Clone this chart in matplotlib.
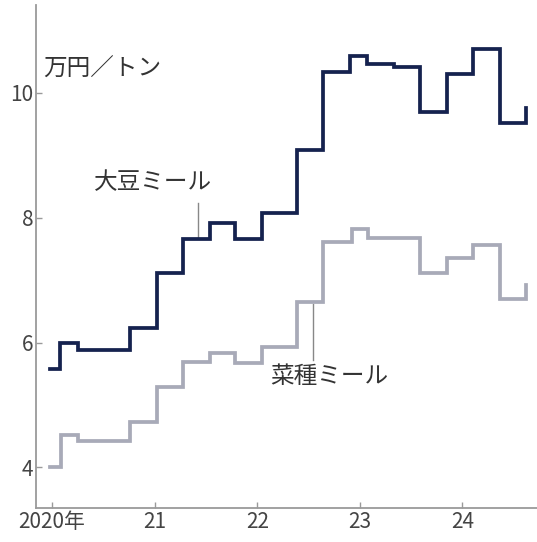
import matplotlib
matplotlib.use('Agg')
import matplotlib.pyplot as plt

plt.rcParams['font.family'] = ['Noto Sans CJK JP', 'DejaVu Sans']

# ── data (decimal year at which each price level starts) ─────────────────────
soy_t = [2019.98, 2020.078, 2020.253, 2020.760, 2021.023, 2021.277, 2021.540,
         2021.784, 2022.047, 2022.388, 2022.641, 2022.904, 2023.070, 2023.333,
         2023.587, 2023.850, 2024.103, 2024.366, 2024.620]
soy_v = [5.58, 6.00, 5.88, 6.23, 7.11, 7.66, 7.92,
         7.66, 8.08, 9.08, 10.34, 10.59, 10.46, 10.41,
         9.70, 10.30, 10.70, 9.52, 9.76]

rape_t = [2019.98, 2020.088, 2020.253, 2020.760, 2021.023, 2021.277, 2021.540,
          2021.784, 2022.047, 2022.388, 2022.641, 2022.924, 2023.080,
          2023.587, 2023.850, 2024.103, 2024.366, 2024.620]
rape_v = [4.00, 4.52, 4.42, 4.73, 5.29, 5.69, 5.83,
          5.67, 5.93, 6.65, 7.61, 7.82, 7.67,
          7.11, 7.35, 7.56, 6.70, 6.92]

x_ticks  = [2020, 2021, 2022, 2023, 2024]
x_labels = ['2020年', '21', '22', '23', '24']
y_ticks  = [4, 6, 8, 10]

NAVY = '#15224f'
GRAY = '#a8aab8'
AXIS = '#9a9a9a'
TXT  = '#333333'

fig = plt.figure(figsize=(5.37, 5.42), dpi=100)
ax = fig.add_axes([36 / 537, 34 / 542, 501 / 537, 503 / 542])

ax.step(rape_t, rape_v, where='post', color=GRAY, lw=2.7,
        solid_joinstyle='miter', zorder=3)
ax.step(soy_t, soy_v, where='post', color=NAVY, lw=2.7,
        solid_joinstyle='miter', zorder=4)

# leader lines for the series labels
ax.plot([2021.423, 2021.423], [8.24, 7.70], color='#888888', lw=1.0, zorder=2)
ax.plot([2022.544, 2022.544], [6.62, 5.72], color='#888888', lw=1.0, zorder=2)

ax.text(2019.912, 10.38, '万円／トン', fontsize=17, color=TXT,
        ha='left', va='center')
ax.text(2020.41, 8.56, '大豆ミール', fontsize=17, color=TXT,
        ha='left', va='center')
ax.text(2022.13, 5.45, '菜種ミール', fontsize=17, color=TXT,
        ha='left', va='center')

ax.set_xlim(2019.844, 2024.727)
ax.set_ylim(3.35, 11.41)
ax.set_xticks(x_ticks)
ax.set_xticklabels(x_labels)
ax.set_yticks(y_ticks)

for s in ['top', 'right']:
    ax.spines[s].set_visible(False)
for s in ['left', 'bottom']:
    ax.spines[s].set_color(AXIS)
    ax.spines[s].set_linewidth(1.3)

ax.tick_params(direction='in', length=4, width=1.0, color=AXIS,
               labelsize=15, labelcolor='#444444', pad=2)

fig.savefig('out.png', dpi=100, facecolor='white')
